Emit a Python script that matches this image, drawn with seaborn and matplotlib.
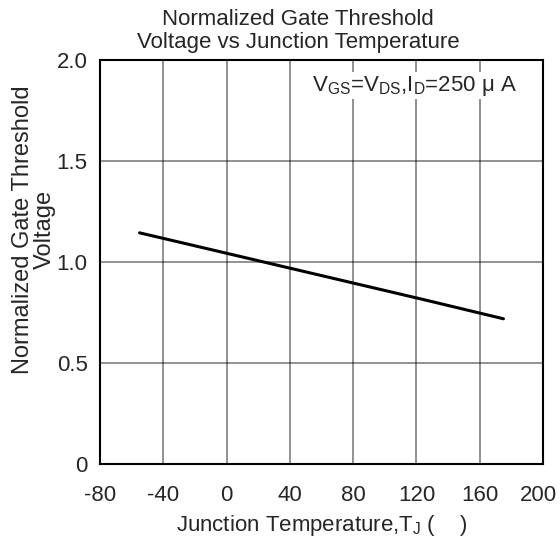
import numpy as np
import pandas as pd
import matplotlib
matplotlib.use("Agg")
import matplotlib.pyplot as plt
import matplotlib.transforms as mtransforms
import seaborn as sns

temps = [-55, -25, 0, 25, 50, 75, 100, 125, 150, 175]
vth_norm = [1.143, 1.088, 1.042, 0.996, 0.950, 0.904, 0.858, 0.812, 0.765, 0.718]
x_ticks = [-80, -40, 0, 40, 80, 120, 160, 200]
y_ticks = [0, 0.5, 1.0, 1.5, 2.0]
y_tick_labels = ["0", "0.5", "1.0", "1.5", "2.0"]

sns.set_style("white")
plt.rcParams['font.family'] = ['Liberation Sans', 'DejaVu Sans']
plt.rcParams['mathtext.fontset'] = 'custom'
plt.rcParams['mathtext.rm'] = 'Liberation Sans'
plt.rcParams['mathtext.it'] = 'Liberation Sans'
plt.rcParams['mathtext.default'] = 'regular'

FS = 16

fig = plt.figure(figsize=(5.6, 5.44), dpi=100)
ax = fig.add_axes([100/560, 1 - 464/544, 443/560, 404.5/544])

df = pd.DataFrame({"T": temps, "V": vth_norm})
sns.lineplot(data=df, x="T", y="V", ax=ax, color="black", linewidth=2.2)

ax.set_xlim(-80, 200)
ax.set_ylim(0, 2.0)
ax.set_xticks(x_ticks)
ax.set_xticklabels([str(t) for t in x_ticks])
ax.set_yticks(y_ticks)
ax.set_yticklabels(y_tick_labels)
ax.grid(True, color="black", alpha=0.5, linewidth=1.2)
ax.tick_params(axis="x", labelsize=FS, length=0, pad=15)
ax.tick_params(axis="y", labelsize=FS, length=0, pad=9)
for s in ax.spines.values():
    s.set_color("black")
    s.set_linewidth(1.5)

# nudge the last x tick label slightly inward so it stays inside the figure
last = ax.get_xticklabels()[-1]
last.set_transform(last.get_transform() + mtransforms.ScaledTranslation(-5/100, 0, fig.dpi_scale_trans))

ax.set_xlabel("Junction Temperature,T$_J$ (    )", fontsize=FS)
ax.xaxis.set_label_coords(0.5, -0.12)
ax.set_ylabel("Normalized Gate Threshold\nVoltage", fontsize=17, linespacing=1.0)
ax.yaxis.set_label_coords(-0.10, 0.58)

fig.text(298/560, 1 - 31/544, "Normalized Gate Threshold\nVoltage vs Junction Temperature",
         ha="center", va="center", fontsize=FS, linespacing=1.15)

ax.text(0.941, 0.935, "V$_{GS}$=V$_{DS}$,I$_D$=250 μ A", transform=ax.transAxes,
        ha="right", va="center", fontsize=FS,
        bbox=dict(facecolor="white", edgecolor="none", pad=1))

fig.savefig("out.png", dpi=100)
